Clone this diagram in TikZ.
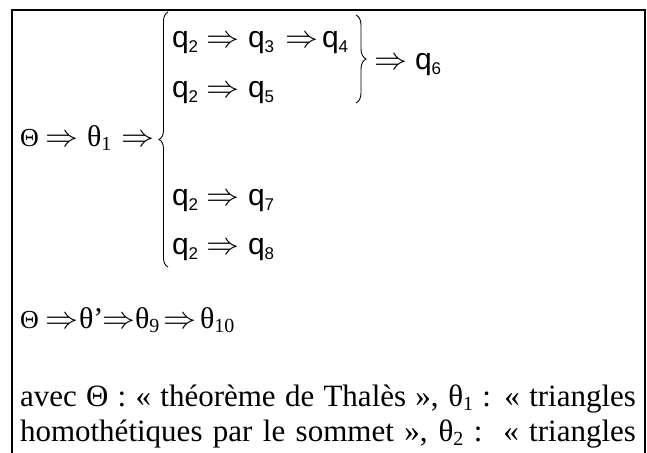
\documentclass[tikz,border=0pt]{standalone}
\usepackage{fontspec}
\setmainfont{Liberation Serif}
\newfontfamily\qfont{Liberation Sans}
\usepackage{graphicx}
\usetikzlibrary{decorations.pathreplacing}
\newcommand{\imp}{\scalebox{3.3}[3.1]{\fontsize{10}{12}\selectfont$\Rightarrow$}}
\newcommand{\qq}[1]{{\qfont\fontsize{30}{32}\selectfont q\raisebox{-5pt}{\fontsize{17}{17}\selectfont #1}}}
\newcommand{\thsub}[1]{\raisebox{-4pt}{\fontsize{20}{20}\selectfont #1}}
\begin{document}
\begin{tikzpicture}[x=1pt,y=-1pt,
  tok/.style={anchor=base west,inner sep=0pt,outer sep=0pt,font=\fontsize{30}{32}\selectfont},
  bigth/.style={anchor=base west,inner sep=0pt,outer sep=0pt,font=\fontsize{26}{30}\selectfont},
  txt/.style={anchor=base west,inner sep=0pt,outer sep=0pt,font=\fontsize{31}{34}\selectfont},
  brc/.style={decorate,decoration={brace,amplitude=#1},line width=0.9pt}]
\useasboundingbox (0,0) rectangle (647,452);
\draw[line width=2.6pt] (12,470) -- (12,10) -- (645,10) -- (645,470);
% main row
\node[bigth] (T0) at (20,146) {Θ};
\node[tok] (a0) at (45,146) {\imp};
\node[tok] (t1) at (87,146) {θ\thsub{1}};
\node[tok] (a1) at (121,146) {\imp};
% left brace
\coordinate (lb1) at (168,267);
\coordinate (lb2) at (168,12);
\draw[brc=9pt] (lb1) -- (lb2);
% row 1
\node[tok] (r1q2) at (172,48) {\qq{2}};
\node[tok] (r1a1) at (206,48) {\imp};
\node[tok] (r1q3) at (248,48) {\qq{3}};
\node[tok] (r1a2) at (285,48) {\imp};
\node[tok] (r1q4) at (322,48) {\qq{4}};
% row 2
\node[tok] (r2q2) at (172,97) {\qq{2}};
\node[tok] (r2a1) at (206,97) {\imp};
\node[tok] (r2q5) at (248,97) {\qq{5}};
% right brace
\coordinate (rb1) at (356,15);
\coordinate (rb2) at (356,103);
\draw[brc=10pt] (rb1) -- (rb2);
\node[tok] (r6a) at (374,70) {\imp};
\node[tok] (r6q) at (415,70) {\qq{6}};
% row 3
\node[tok] (r3q2) at (172,205) {\qq{2}};
\node[tok] (r3a1) at (206,205) {\imp};
\node[tok] (r3q7) at (248,205) {\qq{7}};
% row 4
\node[tok] (r4q2) at (172,254) {\qq{2}};
\node[tok] (r4a1) at (206,254) {\imp};
\node[tok] (r4q8) at (248,254) {\qq{8}};
% second chain
\node[bigth] (S0) at (20,328) {Θ};
\node[tok] (sa0) at (45,328) {\imp};
\node[tok] (sp) at (79,328) {θ’};
\node[tok] (sa1) at (102,328) {\imp};
\node[tok] (s9) at (135,328) {θ\thsub{9}};
\node[tok] (sa2) at (163,328) {\imp};
\node[tok] (s10) at (200,328) {θ\thsub{10}};
% legend
\node[txt] (L1) at (20,406) {\hbox to 616pt{avec Θ : « théorème de Thalès », θ\thsub{1} : « triangles}};
\node[txt] (L2) at (20,441) {\hbox to 616pt{homothétiques par le sommet », θ\thsub{2} :\ \ « triangles}};
\end{tikzpicture}
\end{document}
